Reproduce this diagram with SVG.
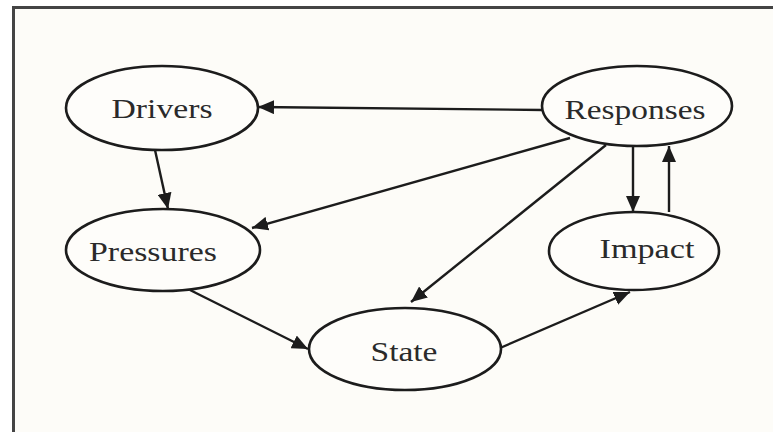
<svg xmlns="http://www.w3.org/2000/svg" width="773" height="432" viewBox="0 0 773 432">
  <defs>
    <marker id="arrow" markerUnits="userSpaceOnUse" markerWidth="16" markerHeight="14" viewBox="0 0 16 14" refX="16" refY="7" orient="auto">
      <path d="M0,0 L16,7 L0,14 Z" fill="#1c1c1c"/>
    </marker>
    <style>
      .node ellipse { fill: #fefdfa; stroke: #1c1c1c; stroke-width: 2.6; }
      .node text { font-family: "Liberation Serif", "DejaVu Serif", serif; font-size: 28px; fill: #2a2a2a; text-anchor: middle; }
      .edges line { stroke: #1c1c1c; stroke-width: 2.4; marker-end: url(#arrow); }
    </style>
  </defs>

  <!-- page background and frame -->
  <rect x="0" y="0" width="773" height="432" fill="#ffffff"/>
  <rect x="13" y="7" width="760" height="425" fill="#fdfcf8"/>
  <line x1="12" y1="7.5" x2="773" y2="7.5" stroke="#444" stroke-width="3"/>
  <line x1="13.5" y1="6" x2="13.5" y2="432" stroke="#444" stroke-width="3"/>

  <g class="edges">
    <line x1="543" y1="110" x2="258" y2="107"/>
    <line x1="155" y1="150" x2="168" y2="209"/>
    <line x1="570" y1="138" x2="252" y2="228"/>
    <line x1="606" y1="145" x2="411" y2="302"/>
    <line x1="633" y1="145" x2="633" y2="212"/>
    <line x1="669" y1="212" x2="669" y2="146"/>
    <line x1="190" y1="290" x2="308" y2="349"/>
    <line x1="500" y1="348" x2="630" y2="292"/>
  </g>

  <g id="drivers" class="node">
    <ellipse cx="162" cy="108" rx="96" ry="42"/>
    <text x="162" y="118" textLength="101" lengthAdjust="spacingAndGlyphs">Drivers</text>
  </g>
  <g id="responses" class="node">
    <ellipse cx="637" cy="106" rx="95" ry="40"/>
    <text x="635" y="119" textLength="141" lengthAdjust="spacingAndGlyphs">Responses</text>
  </g>
  <g id="pressures" class="node">
    <ellipse cx="163" cy="250" rx="97" ry="41"/>
    <text x="153" y="261" textLength="128" lengthAdjust="spacingAndGlyphs">Pressures</text>
  </g>
  <g id="impact" class="node">
    <ellipse cx="634" cy="251" rx="85" ry="39"/>
    <text x="647" y="258" textLength="95" lengthAdjust="spacingAndGlyphs">Impact</text>
  </g>
  <g id="state" class="node">
    <ellipse cx="405" cy="349" rx="96" ry="41"/>
    <text x="404" y="361" textLength="67" lengthAdjust="spacingAndGlyphs">State</text>
  </g>
</svg>
